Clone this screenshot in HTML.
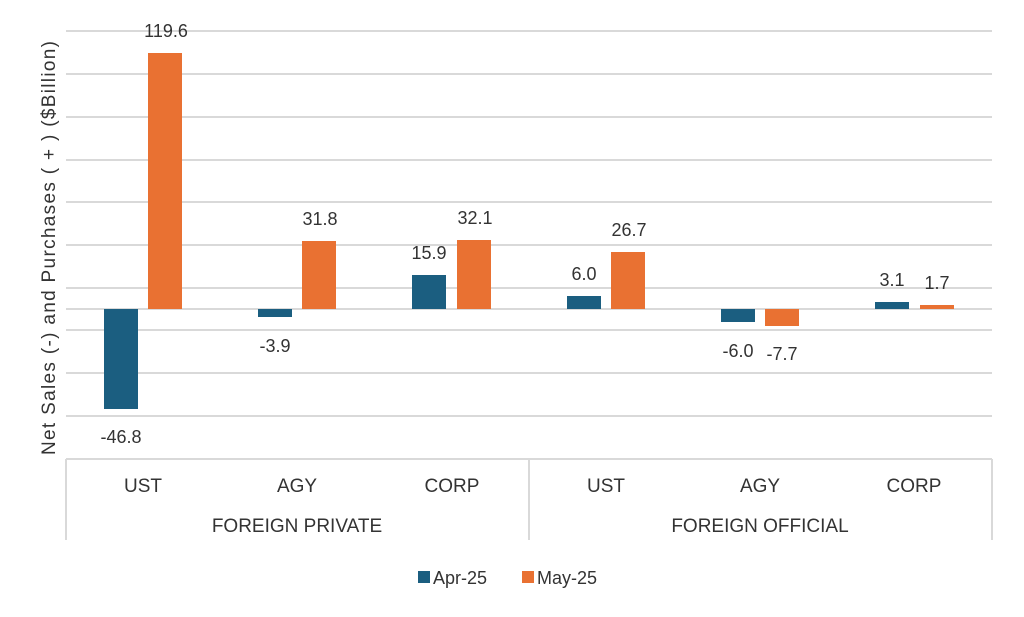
<!DOCTYPE html>
<html><head><meta charset="utf-8"><style>
html,body{margin:0;padding:0;background:#fff;}
svg{display:block;font-family:"Liberation Sans",Arial,sans-serif;}
</style></head><body>
<svg width="1024" height="617" viewBox="0 0 1024 617" xmlns="http://www.w3.org/2000/svg">
<g stroke="#d9d9d9" stroke-width="2">
<line x1="66" x2="992" y1="31" y2="31"/>
<line x1="66" x2="992" y1="74" y2="74"/>
<line x1="66" x2="992" y1="117" y2="117"/>
<line x1="66" x2="992" y1="160" y2="160"/>
<line x1="66" x2="992" y1="202" y2="202"/>
<line x1="66" x2="992" y1="245" y2="245"/>
<line x1="66" x2="992" y1="288" y2="288"/>
<line x1="66" x2="992" y1="309" y2="309"/>
<line x1="66" x2="992" y1="330" y2="330"/>
<line x1="66" x2="992" y1="373" y2="373"/>
<line x1="66" x2="992" y1="416" y2="416"/>
<line x1="66" x2="992" y1="459" y2="459"/>
<line x1="66" x2="66" y1="459" y2="540"/>
<line x1="529" x2="529" y1="459" y2="540"/>
<line x1="992" x2="992" y1="459" y2="540"/>
</g>
<g fill="#1b5e80">
<rect x="104" y="309" width="34" height="100"/>
<rect x="258" y="309" width="34" height="8"/>
<rect x="412" y="275" width="34" height="34"/>
<rect x="567" y="296" width="34" height="13"/>
<rect x="721" y="309" width="34" height="13"/>
<rect x="875" y="302" width="34" height="7"/>
</g>
<g fill="#e97132">
<rect x="148" y="53" width="34" height="256"/>
<rect x="302" y="241" width="34" height="68"/>
<rect x="457" y="240" width="34" height="69"/>
<rect x="611" y="252" width="34" height="57"/>
<rect x="765" y="309" width="34" height="17"/>
<rect x="920" y="305" width="34" height="4"/>
</g>
<g font-size="18" fill="#333" text-anchor="middle">
<text x="166" y="37">119.6</text>
<text x="121" y="443">-46.8</text>
<text x="275" y="352">-3.9</text>
<text x="320" y="225">31.8</text>
<text x="429" y="259">15.9</text>
<text x="475" y="224">32.1</text>
<text x="584" y="280">6.0</text>
<text x="629" y="236">26.7</text>
<text x="738" y="357">-6.0</text>
<text x="782" y="360">-7.7</text>
<text x="892" y="286">3.1</text>
<text x="937" y="289">1.7</text>
</g>
<g font-size="19" fill="#333" text-anchor="middle">
<text x="143" y="492">UST</text>
<text x="297" y="492">AGY</text>
<text x="452" y="492">CORP</text>
<text x="606" y="492">UST</text>
<text x="760" y="492">AGY</text>
<text x="914" y="492">CORP</text>
<text x="297" y="532">FOREIGN PRIVATE</text>
<text x="760" y="532">FOREIGN OFFICIAL</text>
</g>
<text x="0" y="0" font-size="19" fill="#333" text-anchor="middle" textLength="414" lengthAdjust="spacing" transform="translate(55,248) rotate(-90)">Net Sales (-) and Purchases ( + ) ($Billion)</text>
<rect x="418" y="571" width="12" height="12" fill="#1b5e80"/>
<text x="433" y="584" font-size="18" fill="#333">Apr-25</text>
<rect x="522" y="571" width="12" height="12" fill="#e97132"/>
<text x="537" y="584" font-size="18" fill="#333">May-25</text>
</svg>
</body></html>
